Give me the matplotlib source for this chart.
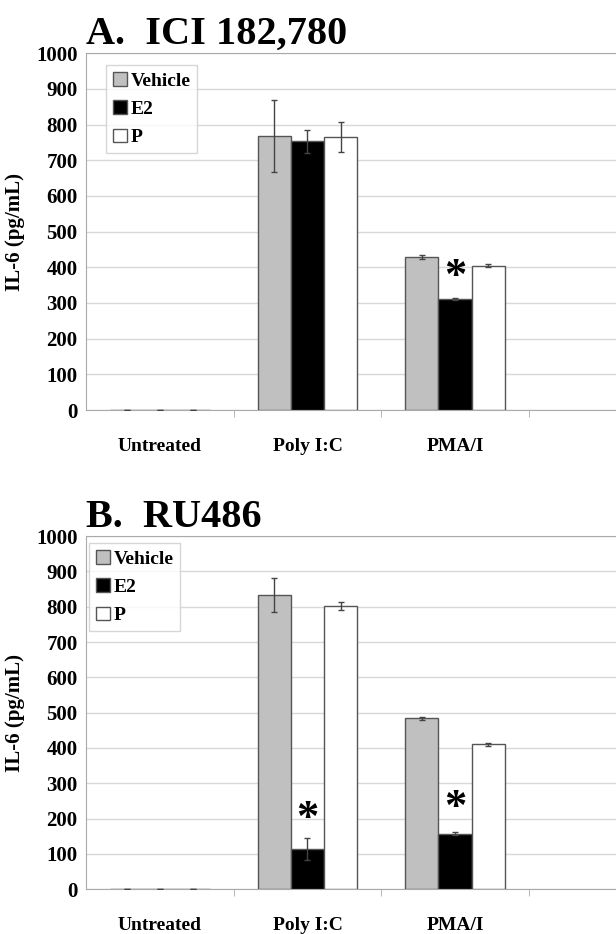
import numpy as np
import matplotlib
matplotlib.use("Agg")
import matplotlib.pyplot as plt
from matplotlib.patches import Patch

plt.rcParams['font.family'] = ['Liberation Serif', 'DejaVu Serif']
plt.rcParams['font.weight'] = 'bold'

# data
categories = ["Untreated", "Poly I:C", "PMA/I"]
series = ["Vehicle", "E2", "P"]
colors = ["#c0c0c0", "#000000", "#ffffff"]

ici_vals = {"Vehicle": [0, 768, 429], "E2": [0, 753, 311], "P": [0, 766, 404]}
ici_err = {"Vehicle": [0, 102, 5], "E2": [0, 32, 4], "P": [0, 42, 4]}
ici_stars = [(2, "E2", 372)]

ru_vals = {"Vehicle": [0, 834, 484], "E2": [0, 114, 157], "P": [0, 802, 410]}
ru_err = {"Vehicle": [0, 48, 4], "E2": [0, 30, 4], "P": [0, 10, 4]}
ru_stars = [(1, "E2", 200), (2, "E2", 229)]

fig = plt.figure(figsize=(6.16, 9.34), dpi=100)
ax1 = fig.add_axes([0.1396, 0.561, 0.8604, 0.382])
ax2 = fig.add_axes([0.1396, 0.048, 0.8604, 0.378])

w = 0.225
x = np.arange(len(categories))


def draw(ax, vals, errs, stars, title, legloc):
    for i, s in enumerate(series):
        pos = x + (i - 1) * w
        ax.bar(pos, vals[s], w, color=colors[i], edgecolor="#555555",
               linewidth=1.0, zorder=3, label=s)
        ax.errorbar(pos, vals[s], yerr=errs[s], fmt="none", ecolor="#444444",
                    elinewidth=1.0, capsize=2, capthick=1.0, zorder=4)
    for c, s, yv in stars:
        i = series.index(s)
        ax.text(x[c] + (i - 1) * w, yv, "*", ha="center", va="center",
                fontsize=32, fontweight="bold", zorder=5)
    ax.set_ylim(0, 1000)
    ax.set_xlim(-0.5, 3.09)
    ax.set_yticks(np.arange(0, 1001, 100))
    ax.yaxis.grid(True, color="#d8d8d8", linewidth=1.0, zorder=0)
    ax.set_axisbelow(True)
    ax.tick_params(axis="y", length=0, labelsize=15, pad=6)
    ax.set_xticks(x)
    ax.set_xticklabels(categories, fontsize=14)
    ax.tick_params(axis="x", length=0, pad=20)
    ax.set_xticks([0.5, 1.5, 2.5], minor=True)
    ax.tick_params(axis="x", which="minor", length=5, color="#aaaaaa")
    for sp in ["left", "top", "bottom"]:
        ax.spines[sp].set_color("#aaaaaa")
    ax.spines["right"].set_visible(False)
    ax.set_ylabel("IL-6 (pg/mL)", fontsize=15, fontweight="bold", labelpad=8)
    ax.set_title(title, loc="left", fontsize=29, fontweight="bold", pad=2,
                 x=0.0)
    handles = [Patch(facecolor=colors[i], edgecolor="#555555", label=s)
               for i, s in enumerate(series)]
    leg = ax.legend(handles=handles, loc="upper left", bbox_to_anchor=legloc,
                    fontsize=14, frameon=True, fancybox=False,
                    handlelength=0.7, handleheight=0.7, handletextpad=0.2,
                    labelspacing=0.55, borderpad=0.35, borderaxespad=0)
    leg.get_frame().set_edgecolor("#cccccc")
    leg.get_frame().set_linewidth(1.0)


draw(ax1, ici_vals, ici_err, ici_stars, "A.  ICI 182,780", (0.038, 0.966))
draw(ax2, ru_vals, ru_err, ru_stars, "B.  RU486", (0.006, 0.98))

fig.savefig("out.png", dpi=100)
